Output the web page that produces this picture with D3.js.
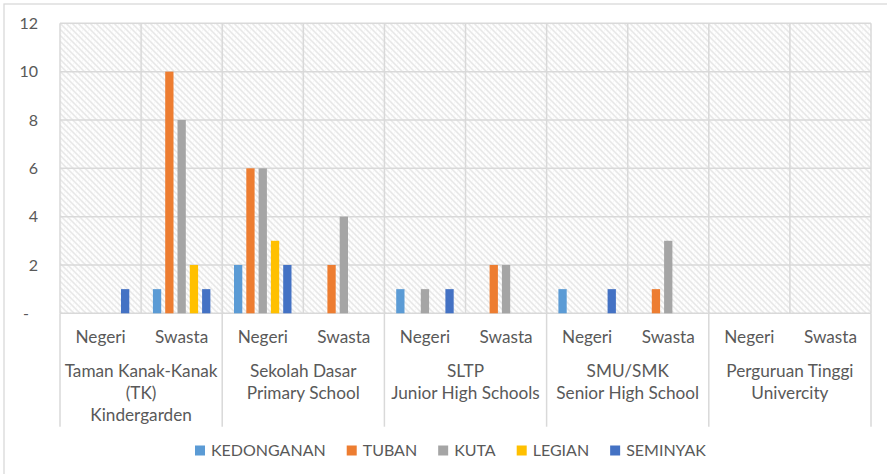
<!DOCTYPE html>
<html>
<head>
<meta charset="utf-8">
<script src="https://cdn.jsdelivr.net/npm/d3@7"></script>
<style>
    body { margin: 0; background: #fff; }
    text { font-family: Lato, "Liberation Sans", sans-serif; fill: #595959; }
</style>
</head>
<body>
<svg></svg>
<script>
//data
const series = ["KEDONGANAN", "TUBAN", "KUTA", "LEGIAN", "SEMINYAK"];
const colors = ["#5b9bd5", "#ed7d31", "#a5a5a5", "#ffc000", "#4472c4"];
const schools = [
    ["Taman Kanak-Kanak", "(TK)", "Kindergarden"],
    ["Sekolah Dasar", "Primary School"],
    ["SLTP", "Junior High Schools"],
    ["SMU/SMK", "Senior High School"],
    ["Perguruan Tinggi", "Univercity"]
];
const types = ["Negeri", "Swasta"];
const kedonganan = [0, 1, 2, 0, 1, 0, 1, 0, 0, 0];
const tuban      = [0, 10, 6, 2, 0, 2, 0, 1, 0, 0];
const kuta       = [0, 8, 6, 4, 1, 2, 0, 3, 0, 0];
const legian     = [0, 2, 3, 0, 0, 0, 0, 0, 0, 0];
const seminyak   = [1, 1, 2, 0, 1, 0, 1, 0, 0, 0];
const yTicks = [0, 2, 4, 6, 8, 10, 12];

//constants
const W = 887, H = 474;
const margin = {top: 23.3, right: 16, bottom: 160.7, left: 60};
const width = W - margin.left - margin.right;
const height = H - margin.top - margin.bottom;
const fontSize = 16;
const labelSize = 17.2;

function main() {
    let values = [kedonganan, tuban, kuta, legian, seminyak];
    let cats = [];
    schools.forEach((s, i) => types.forEach(t => cats.push(i + "|" + t)));

    //scales
    let xScale = d3.scaleBand()
        .domain(cats)
        .range([0, width]);

    let sScale = d3.scaleBand()
        .domain(series)
        .range([0, xScale.bandwidth()])
        .paddingInner(0.325)
        .paddingOuter(0.96);

    let yScale = d3.scaleLinear()
        .domain([0, 12])
        .range([height, 0]);

    let colorScale = d3.scaleOrdinal()
        .domain(series)
        .range(colors);

    //canvas
    let root = d3.select("svg")
        .attr("width", W)
        .attr("height", H);

    //hatch pattern
    let pat = root.append("defs").append("pattern")
        .attr("id", "hatch")
        .attr("patternUnits", "userSpaceOnUse")
        .attr("width", 6)
        .attr("height", 6);
    pat.append("rect").attr("width", 6).attr("height", 6).attr("fill", "#fff");
    pat.append("path")
        .attr("d", "M-1,-1 L7,7 M-1,5 L1,7 M5,-1 L7,1")
        .attr("stroke", "#e4e4e4")
        .attr("stroke-width", 1.5);
    pat.append("path")
        .attr("d", "M-1,7 L7,-1")
        .attr("stroke", "#f1f1f1")
        .attr("stroke-width", 0.8);

    //chart border
    root.append("rect")
        .attr("x", 4).attr("y", 4)
        .attr("width", W + 20).attr("height", H + 20)
        .attr("fill", "none")
        .attr("stroke", "#d9d9d9")
        .attr("stroke-width", 1.3);

    let svg = root.append("g")
        .attr("transform", "translate(" + margin.left + "," + margin.top + ")");

    //plot background
    svg.append("rect")
        .attr("width", width)
        .attr("height", height)
        .attr("fill", "url(#hatch)");

    //grid
    svg.append("g")
        .selectAll("line")
        .data(yTicks)
        .enter()
        .append("line")
        .attr("x1", 0).attr("x2", width)
        .attr("y1", d => yScale(d)).attr("y2", d => yScale(d))
        .attr("stroke", "#d9d9d9")
        .attr("stroke-width", 1.5);

    svg.append("g")
        .selectAll("line")
        .data(cats.concat(["end"]))
        .enter()
        .append("line")
        .attr("x1", d => d == "end" ? width : xScale(d))
        .attr("x2", d => d == "end" ? width : xScale(d))
        .attr("y1", 0)
        .attr("y2", height)
        .attr("stroke", "#d9d9d9")
        .attr("stroke-width", 1.5);

    //group dividers under the axis
    let divs = d3.range(schools.length + 1).map(i => i < schools.length ? xScale(i + "|Negeri") : width);
    svg.append("g")
        .selectAll("line")
        .data(divs)
        .enter()
        .append("line")
        .attr("x1", d => d).attr("x2", d => d)
        .attr("y1", height).attr("y2", height + 113.4)
        .attr("stroke", "#d9d9d9")
        .attr("stroke-width", 1.5);

    //y axis
    let yAxis = svg.append("g")
        .call(d3.axisLeft(yScale)
            .tickValues(yTicks)
            .tickSize(0)
            .tickPadding(22)
            .tickFormat(d => d == 0 ? "-" : d));
    yAxis.select(".domain").remove();
    yAxis.selectAll("text")
        .style("font-size", fontSize + "px")
        .style("fill", "#595959")
        .attr("dx", d => d == 0 ? -9 : 0);

    //bars
    let flat = [];
    values.forEach((vals, si) => vals.forEach((v, ci) => {
        if (v > 0) flat.push({s: series[si], c: cats[ci], v: v});
    }));

    svg.append("g")
        .selectAll("rect")
        .data(flat)
        .enter()
        .append("rect")
        .attr("x", d => xScale(d.c) + sScale(d.s))
        .attr("y", d => yScale(d.v))
        .attr("width", sScale.bandwidth())
        .attr("height", d => height - yScale(d.v))
        .attr("fill", d => colorScale(d.s));

    //x labels
    svg.append("g")
        .selectAll("text")
        .data(cats)
        .enter()
        .append("text")
        .attr("x", d => xScale(d) + xScale.bandwidth() / 2)
        .attr("y", height + 24)
        .attr("dy", "0.35em")
        .style("text-anchor", "middle")
        .style("font-size", labelSize + "px")
        .text(d => d.split("|")[1]);

    let groupLabels = svg.append("g")
        .selectAll("text")
        .data(schools)
        .enter()
        .append("text")
        .attr("x", (d, i) => xScale(i + "|Negeri") + xScale.bandwidth())
        .attr("y", height + 58)
        .style("text-anchor", "middle")
        .style("font-size", labelSize + "px");

    groupLabels.selectAll("tspan")
        .data(d => d)
        .enter()
        .append("tspan")
        .attr("x", function() { return this.parentNode.getAttribute("x"); })
        .attr("dy", (d, i) => i == 0 ? "0.35em" : "22")
        .text(d => d);

    //legend
    let legend = root.append("g")
        .attr("transform", "translate(195," + 450.5 + ")");
    let lx = 0;
    series.forEach(s => {
        let g = legend.append("g").attr("transform", "translate(" + lx + ",0)");
        g.append("rect")
            .attr("x", 0).attr("y", -5)
            .attr("width", 10).attr("height", 10)
            .attr("fill", colorScale(s));
        let t = g.append("text")
            .attr("x", 16)
            .attr("dy", "0.35em")
            .style("font-size", fontSize + "px")
            .text(s);
        lx += 16 + t.node().getComputedTextLength() + 21;
    });
}

main();
</script>
</body>
</html>
